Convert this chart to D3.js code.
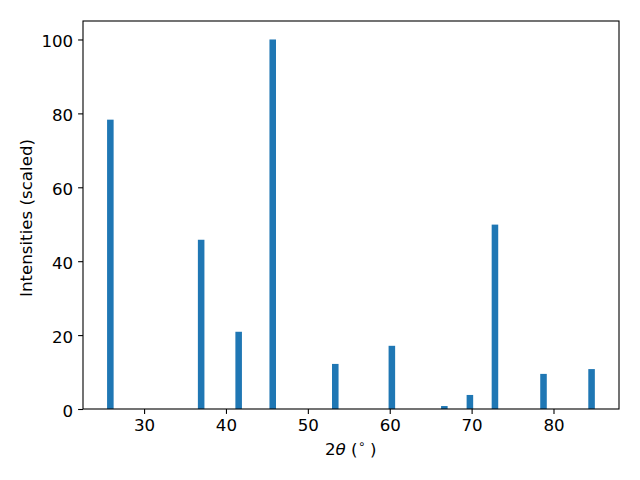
<!DOCTYPE html>
<html><head><meta charset="utf-8">
<script src="https://cdn.jsdelivr.net/npm/d3@7"></script>
<style>body{margin:0;background:#fff}text{font-family:"DejaVu Sans",sans-serif}</style>
</head><body>
<svg id="c" width="640" height="480"></svg>
<script>
const angles = [25.88, 36.97, 41.55, 45.71, 53.35, 60.26, 66.67, 69.79, 72.85, 78.78, 84.65];
const intensities = [78.3, 45.8, 20.9, 100, 12.2, 17.1, 0.8, 3.8, 49.9, 9.5, 10.8];
const xTicks = [30, 40, 50, 60, 70, 80];
const yTicks = [0, 20, 40, 60, 80, 100];
const barWidth = 0.8;

const svg = d3.select("#c");
const L = 83, R = 619, T = 21, B = 409;
const x = d3.scaleLinear().domain([22.54, 88.0]).range([L, R]);
const y = d3.scaleLinear().domain([0, 105]).range([B, T]);

svg.append("g").selectAll("rect").data(angles).join("rect")
  .attr("x", (d) => x(d - barWidth / 2))
  .attr("width", (d) => x(d + barWidth / 2) - x(d - barWidth / 2))
  .attr("y", (d, i) => y(intensities[i]))
  .attr("height", (d, i) => y(0) - y(intensities[i]))
  .attr("fill", "#1f77b4");

const xa = svg.append("g").attr("transform", `translate(0,${B})`)
  .call(d3.axisBottom(x).tickValues(xTicks).tickSize(4.9).tickPadding(4.9).tickSizeOuter(0));
const ya = svg.append("g").attr("transform", `translate(${L},0)`)
  .call(d3.axisLeft(y).tickValues(yTicks).tickSize(4.9).tickPadding(4.9).tickSizeOuter(0));
[xa, ya].forEach(g => {
  g.select(".domain").remove();
  g.selectAll("line").attr("stroke", "#000").attr("stroke-width", 1.1);
  g.selectAll("text").attr("font-size", 16.67).attr("fill", "#000").style("font-family", "DejaVu Sans");
});
ya.selectAll("text").attr("dy", "0.42em");

svg.append("rect").attr("x", L).attr("y", T).attr("width", R - L).attr("height", B - T)
  .attr("fill", "none").attr("stroke", "#000").attr("stroke-width", 1.1);

const xl = svg.append("text").attr("y", 455).attr("font-size", 16.67).attr("fill", "#000");
xl.append("tspan").attr("x", 325).text("2");
xl.append("tspan").attr("font-style", "italic").text("θ");
xl.append("tspan").attr("x", 351).text("(");
xl.append("tspan").attr("x", 358).attr("font-size", 11.7).attr("dy", -7).text("∘");
xl.append("tspan").attr("x", 370).attr("dy", 7).text(")");

svg.append("text").attr("transform", `translate(32,${(T + B) / 2 + 3}) rotate(-90)`)
  .attr("text-anchor", "middle").attr("font-size", 16.67).attr("fill", "#000")
  .text("Intensities (scaled)");
</script>
</body></html>
